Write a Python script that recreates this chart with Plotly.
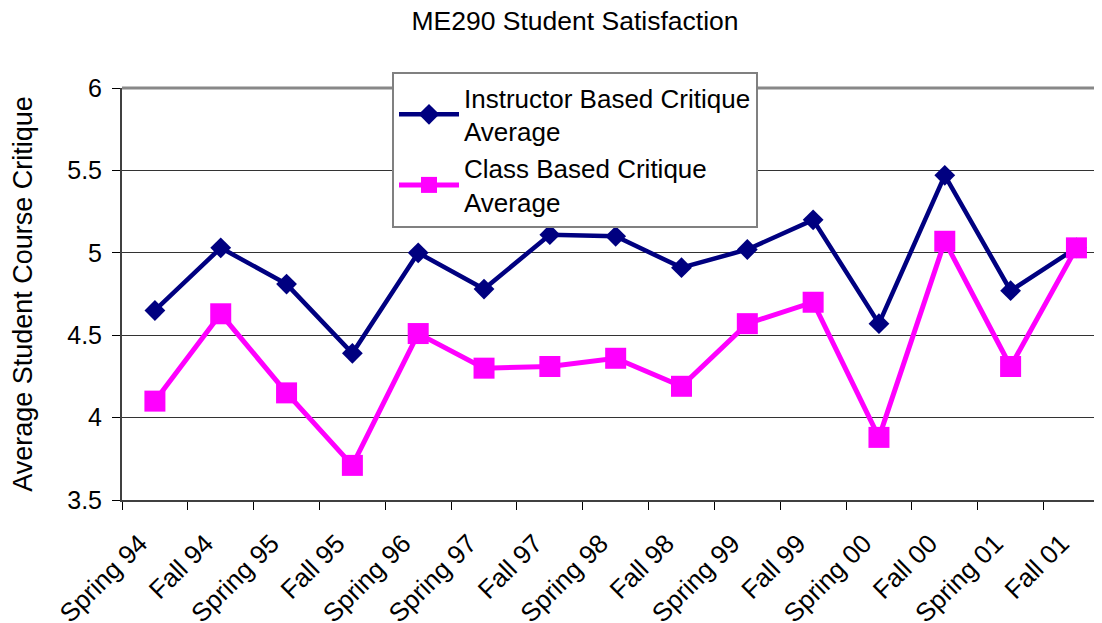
import plotly.graph_objects as go

categories = ["Spring 94", "Fall 94", "Spring 95", "Fall 95", "Spring 96", "Spring 97",
              "Fall 97", "Spring 98", "Fall 98", "Spring 99", "Fall 99", "Spring 00",
              "Fall 00", "Spring 01", "Fall 01"]
instructor = [4.65, 5.03, 4.81, 4.39, 5.00, 4.78, 5.11, 5.10, 4.91, 5.02, 5.20, 4.57, 5.47, 4.77, 5.03]
class_based = [4.10, 4.63, 4.15, 3.71, 4.51, 4.30, 4.31, 4.36, 4.19, 4.57, 4.70, 3.88, 5.07, 4.31, 5.03]

FONT = "Arial, Liberation Sans, sans-serif"
xpos = list(range(len(categories)))

fig = go.Figure()
fig.add_trace(go.Scatter(
    x=xpos, y=instructor, mode="lines+markers",
    name="Instructor Based Critique<br>Average",
    line=dict(color="#000080", width=4.5),
    marker=dict(symbol="diamond", size=16, color="#000080"),
))
fig.add_trace(go.Scatter(
    x=xpos, y=class_based, mode="lines+markers",
    name="Class Based Critique<br>Average",
    line=dict(color="#FF00FF", width=5),
    marker=dict(symbol="square", size=21, color="#FF00FF"),
))

fig.update_layout(
    width=1102, height=623,
    margin=dict(l=114, r=0, t=80, b=131, autoexpand=False),
    paper_bgcolor="white", plot_bgcolor="white",
    font=dict(family=FONT, color="black", size=26),
    title=dict(text="ME290 Student Satisfaction", x=567 / 1102, xanchor="center",
               y=1 - 13 / 623, yanchor="middle", font=dict(size=26.5)),
    showlegend=True,
    legend=dict(x=270 / 988, y=(500 - 72) / 412, xanchor="left", yanchor="top",
                bgcolor="white", bordercolor="#808080", borderwidth=2,
                font=dict(size=26), tracegroupgap=0, itemwidth=60),
    shapes=[dict(type="line", xref="paper", yref="paper", x0=0, x1=1, y0=1, y1=1,
                 line=dict(color="#888888", width=3))],
)

fig.update_xaxes(
    range=[-0.5, 14.51], tickmode="array", tickvals=xpos, ticktext=categories,
    tickangle=-45, ticks="", showgrid=False, zeroline=False, automargin=False,
    showline=True, linecolor="#404040", linewidth=2,
    ticklabelstandoff=16, ticklabelshift=-15,
    tickfont=dict(size=26),
    minor=dict(tickvals=[i - 0.5 for i in xpos], ticks="outside", ticklen=8,
               tickcolor="black", tickwidth=1, showgrid=False),
)
fig.update_yaxes(
    range=[3.5, 6], dtick=0.5, tick0=3.5, automargin=False,
    ticks="outside", ticklen=8, tickcolor="black",
    showgrid=True, gridcolor="#333333", gridwidth=1.2,
    zeroline=False, showline=True, linecolor="#404040", linewidth=2,
    tickfont=dict(size=25), ticklabelstandoff=5,
    title=dict(text="Average Student Course Critique", font=dict(size=27), standoff=29),
)

fig.write_html("out.html")
